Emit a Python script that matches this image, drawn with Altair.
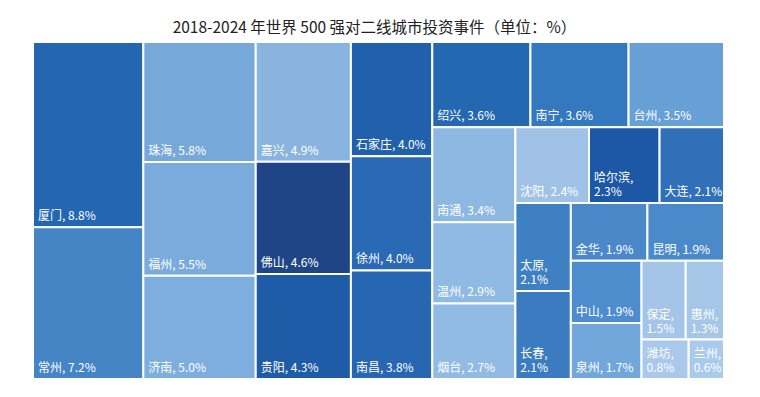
import altair as alt
import pandas as pd

cities = ["厦门", "常州", "珠海", "福州", "济南", "嘉兴", "佛山", "贵阳",
          "石家庄", "徐州", "南昌", "绍兴", "南宁", "台州", "南通", "温州",
          "烟台", "沈阳", "哈尔滨", "大连", "太原", "长春", "金华", "昆明",
          "中山", "泉州", "保定", "惠州", "潍坊", "兰州"]
values = [8.8, 7.2, 5.8, 5.5, 5.0, 4.9, 4.6, 4.3,
          4.0, 4.0, 3.8, 3.6, 3.6, 3.5, 3.4, 2.9,
          2.7, 2.4, 2.3, 2.1, 2.1, 2.1, 1.9, 1.9,
          1.9, 1.7, 1.5, 1.3, 0.8, 0.6]
colors = ["#2466B1", "#4585C6", "#76A9DA", "#7AABDC", "#7EAEDD", "#8AB4E0",
          "#1F4586", "#1F5CA7", "#2060AD", "#2A69B4", "#2767B2", "#2468B2",
          "#3479C0", "#67A0D6", "#8DB8E2", "#8FBAE3", "#91BBE3", "#9FC2E6",
          "#1D58A6", "#2F70B9", "#3F80C3", "#3B7CC0", "#4A88C9", "#4A89CA",
          "#4D8DCD", "#72A7DB", "#A4C5E8", "#A6C6E8", "#A9C8EA", "#AACAEA"]
# cities whose label wraps onto two lines in the reference
wrapped = {"哈尔滨": "\u2002", "太原": "", "长春": "", "保定": "", "惠州": "",
           "潍坊": "", "兰州": ""}
# number of cells in each successive strip of the squarified layout
strip_counts = [2, 3, 3, 3, 3, 3, 3, 2, 2, 2, 2, 1, 1]

W, H = 691.0, 337.0


def layout(vals, counts, w, h):
    rects = []
    x0, y0, x1, y1 = 0.0, 0.0, w, h
    total = sum(vals)
    i = 0
    for c in counts:
        grp = vals[i:i + c]
        s = sum(grp)
        dx, dy = x1 - x0, y1 - y0
        if dx >= dy:
            cw = dx * s / total
            yy = y0
            for v in grp:
                ch = dy * v / s
                rects.append((x0, yy, x0 + cw, yy + ch))
                yy += ch
            x0 += cw
        else:
            ch = dy * s / total
            xx = x0
            for v in grp:
                cw = dx * v / s
                rects.append((xx, y0, xx + cw, y0 + ch))
                xx += cw
            y0 += ch
        total -= s
        i += c
    return rects


rects = layout(values, strip_counts, W, H)
labels, nlines = [], []
for c, v in zip(cities, values):
    if c in wrapped:
        labels.append([f"{c},", f"{wrapped[c]}{v}%"])
        nlines.append(2)
    else:
        labels.append([f"{c}, {v}%"])
        nlines.append(1)

df = pd.DataFrame({
    "city": cities,
    "value": values,
    "color": colors,
    "x0": [r[0] for r in rects],
    "y0": [r[1] for r in rects],
    "x1": [r[2] for r in rects],
    "y1": [r[3] for r in rects],
    "label": labels,
    "nl": nlines,
})

xs = alt.Scale(domain=[0, W], nice=False, zero=False)
ys = alt.Scale(domain=[0, H], nice=False, zero=False, reverse=True)

base = alt.Chart(df)
cells = base.mark_rect(stroke="white", strokeWidth=2).encode(
    x=alt.X("x0:Q", scale=xs, axis=None),
    x2="x1:Q",
    y=alt.Y("y0:Q", scale=ys, axis=None),
    y2="y1:Q",
    color=alt.Color("color:N", scale=None, legend=None),
    tooltip=["city:N", "value:Q"],
)

text_style = dict(align="left", baseline="bottom", dx=5, color="white",
                  font="Noto Sans CJK SC", fontSize=12, lineHeight=14)
text_enc = dict(
    x=alt.X("x0:Q", scale=xs, axis=None),
    y=alt.Y("y1:Q", scale=ys, axis=None),
    text="label",
)
text1 = base.transform_filter("datum.nl == 1").mark_text(
    dy=-4, **text_style).encode(**text_enc)
text2 = base.transform_filter("datum.nl == 2").mark_text(
    dy=-18, **text_style).encode(**text_enc)

chart = (cells + text1 + text2).properties(
    width=W, height=H,
    autosize=alt.AutoSizeParams(type="none"),
    padding={"left": 25, "top": 34, "right": 20, "bottom": 10},
    title=alt.TitleParams(
        "2018-2024 年世界 500 强对二线城市投资事件（单位：%）",
        font="Noto Sans CJK SC", fontSize=15.5, fontWeight="normal",
        color="#222222", anchor="middle", dx=-4, offset=5,
    ),
).configure_view(strokeWidth=0)

chart.save("out.html", embed_options={"renderer": "svg", "actions": False})
